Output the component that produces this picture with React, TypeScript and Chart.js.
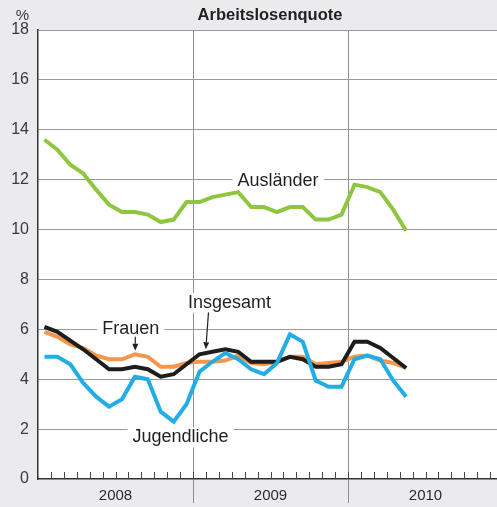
import { useEffect, useRef } from "react";
import Chart from "chart.js/auto";

const FONT = '"Liberation Sans", Arial, Helvetica, sans-serif';

// Monthly values Jan 2008 – May 2010 (in %)
const auslaender = [13.6, 13.2, 12.6, 12.25, 11.6, 11.0, 10.7, 10.7, 10.6, 10.3, 10.4, 11.1, 11.1, 11.3, 11.4, 11.5, 10.9, 10.9, 10.7, 10.9, 10.9, 10.4, 10.4, 10.6, 11.8, 11.7, 11.5, 10.8, 9.95];
const frauen = [5.9, 5.7, 5.4, 5.25, 4.95, 4.8, 4.8, 5.0, 4.9, 4.5, 4.5, 4.65, 4.7, 4.7, 4.75, 4.95, 4.65, 4.6, 4.7, 4.9, 4.9, 4.6, 4.65, 4.7, 4.9, 4.95, 4.75, 4.65, 4.45];
const insgesamt = [6.1, 5.9, 5.55, 5.2, 4.8, 4.4, 4.4, 4.5, 4.4, 4.1, 4.2, 4.6, 5.0, 5.1, 5.2, 5.1, 4.7, 4.7, 4.7, 4.9, 4.8, 4.5, 4.5, 4.6, 5.5, 5.5, 5.25, 4.85, 4.45];
const jugendliche = [4.9, 4.9, 4.6, 3.85, 3.3, 2.9, 3.2, 4.1, 4.0, 2.7, 2.3, 3.0, 4.3, 4.7, 5.05, 4.8, 4.4, 4.2, 4.65, 5.8, 5.5, 3.95, 3.7, 3.7, 4.8, 4.95, 4.8, 3.95, 3.3];

const years = ["2008", "2009", "2010"];
const yTicks = [0, 2, 4, 6, 8, 10, 12, 14, 16, 18];
const title = "Arbeitslosenquote";
const unit = "%";

// Annotations in data units (x: months since Jan 2008, y: %)
const labels = [
  { text: "Ausländer", x: 15.45, y: 11.75 },
  { text: "Frauen", x: 4.98, y: 5.81 },
  { text: "Insgesamt", x: 11.61, y: 6.86 },
  { text: "Jugendliche", x: 7.32, y: 1.47 },
];
const arrows = [
  { x1: 7.53, y1: 5.7, x2: 7.53, y2: 5.14 },
  { x1: 13.2, y1: 6.68, x2: 12.99, y2: 5.2 },
];

const toPts = (arr: number[]) => arr.map((v, i) => ({ x: i + 0.5, y: v }));

export default function App() {
  const ref = useRef<HTMLCanvasElement>(null);
  useEffect(() => {
    const canvas = ref.current!;
    const bgPlugin = {
      id: "bg",
      beforeDraw(chart: any) {
        const { ctx, chartArea: a } = chart;
        ctx.save();
        ctx.fillStyle = "#ebebed";
        ctx.fillRect(0, 0, chart.width, chart.height);
        ctx.fillStyle = "#ffffff";
        ctx.fillRect(a.left, a.top, a.right - a.left, a.bottom - a.top);
        ctx.fillStyle = "#231f20";
        ctx.font = `bold 16.5px ${FONT}`;
        ctx.textAlign = "center";
        ctx.textBaseline = "alphabetic";
        ctx.fillText(title, 270, 20);
        ctx.fillStyle = "#3a3a3a";
        ctx.font = `15px ${FONT}`;
        ctx.fillText(unit, 22.5, 20);
        ctx.restore();
      },
      beforeDatasetsDraw(chart: any) {
        const { ctx, chartArea: a } = chart;
        const xs = chart.scales.x;
        const ys = chart.scales.y;
        ctx.save();
        // minor month ticks
        ctx.strokeStyle = "#444";
        ctx.lineWidth = 1;
        for (let m = 1; m < 36; m++) {
          const px = Math.round(xs.getPixelForValue(m)) + 0.5;
          ctx.beginPath();
          ctx.moveTo(px, a.bottom);
          ctx.lineTo(px, a.bottom - 7);
          ctx.stroke();
        }
        // labels
        ctx.font = `18px ${FONT}`;
        ctx.textAlign = "left";
        ctx.textBaseline = "alphabetic";
        for (const l of labels) {
          const px = xs.getPixelForValue(l.x);
          const py = ys.getPixelForValue(l.y);
          const w = ctx.measureText(l.text).width;
          ctx.fillStyle = "#ffffff";
          ctx.fillRect(px - 5, py - 15, w + 10, 20);
          ctx.fillStyle = "#231f20";
          ctx.fillText(l.text, px, py);
        }
        // arrows
        ctx.strokeStyle = "#231f20";
        ctx.fillStyle = "#231f20";
        ctx.lineWidth = 1.2;
        for (const ar of arrows) {
          const x1 = xs.getPixelForValue(ar.x1), y1 = ys.getPixelForValue(ar.y1);
          const x2 = xs.getPixelForValue(ar.x2), y2 = ys.getPixelForValue(ar.y2);
          const ang = Math.atan2(y2 - y1, x2 - x1);
          const hl = 7, hw = 3;
          const bx = x2 - hl * Math.cos(ang), by = y2 - hl * Math.sin(ang);
          ctx.beginPath();
          ctx.moveTo(x1, y1);
          ctx.lineTo(bx, by);
          ctx.stroke();
          ctx.beginPath();
          ctx.moveTo(x2, y2);
          ctx.lineTo(bx + hw * Math.sin(ang), by - hw * Math.cos(ang));
          ctx.lineTo(bx - hw * Math.sin(ang), by + hw * Math.cos(ang));
          ctx.closePath();
          ctx.fill();
        }
        ctx.restore();
      },
    };

    const ds = (label: string, data: number[], color: string) => ({
      label,
      data: toPts(data),
      borderColor: color,
      backgroundColor: color,
      borderWidth: 4,
      pointRadius: 0,
      tension: 0,
      fill: false,
    });

    const chart = new Chart(canvas, {
      type: "line",
      data: {
        datasets: [
          ds("Jugendliche", jugendliche, "#22ade4"),
          ds("Insgesamt", insgesamt, "#1d1d1b"),
          ds("Frauen", frauen, "#f4974c"),
          ds("Ausländer", auslaender, "#8fc640"),
        ],
      },
      options: {
        animation: false,
        responsive: false,
        devicePixelRatio: 1,
        layout: { padding: { top: 30, left: 0, right: 0, bottom: 0 } },
        plugins: { legend: { display: false }, tooltip: { enabled: false }, title: { display: false } },
        scales: {
          x: {
            type: "linear",
            min: 0,
            max: 36,
            afterBuildTicks: (s: any) => {
              s.ticks = [0, 6, 12, 18, 24, 30, 36].map((v) => ({ value: v }));
            },
            afterFit: (s: any) => {
              s.height = 28;
            },
            grid: {
              drawOnChartArea: true,
              drawTicks: true,
              tickLength: 24,
              color: (c: any) => {
                const v = c.tick ? c.tick.value : -1;
                return v === 12 || v === 24 ? "#8e8e8e" : "rgba(0,0,0,0)";
              },
              lineWidth: 1,
            },
            border: { display: true, color: "#333", width: 1.5 },
            ticks: {
              autoSkip: false,
              maxRotation: 0,
              padding: -16,
              color: "#2a2a2a",
              font: { family: FONT, size: 15 },
              callback: (v: any) => {
                const idx = [6, 18, 30].indexOf(Number(v));
                return idx >= 0 ? years[idx] : "";
              },
            },
          },
          y: {
            min: 0,
            max: 18,
            afterBuildTicks: (s: any) => {
              s.ticks = yTicks.map((v) => ({ value: v }));
            },
            afterFit: (s: any) => {
              s.width = 38;
            },
            grid: {
              drawTicks: false,
              color: (c: any) => (c.tick && c.tick.value === 0 ? "rgba(0,0,0,0)" : "#9a9a9a"),
              lineWidth: 1,
            },
            border: { display: true, color: "#333", width: 1.5 },
            ticks: {
              padding: 9,
              color: "#3a3a3a",
              font: { family: FONT, size: 16 },
            },
          },
        },
      },
      plugins: [bgPlugin],
    } as any);
    return () => chart.destroy();
  }, []);

  return (
    <div style={{ position: "fixed", left: 0, top: 0, width: 497, height: 507, overflow: "hidden", background: "#ebebed" }}>
      <canvas ref={ref} width={503} height={507} style={{ display: "block" }} />
    </div>
  );
}
